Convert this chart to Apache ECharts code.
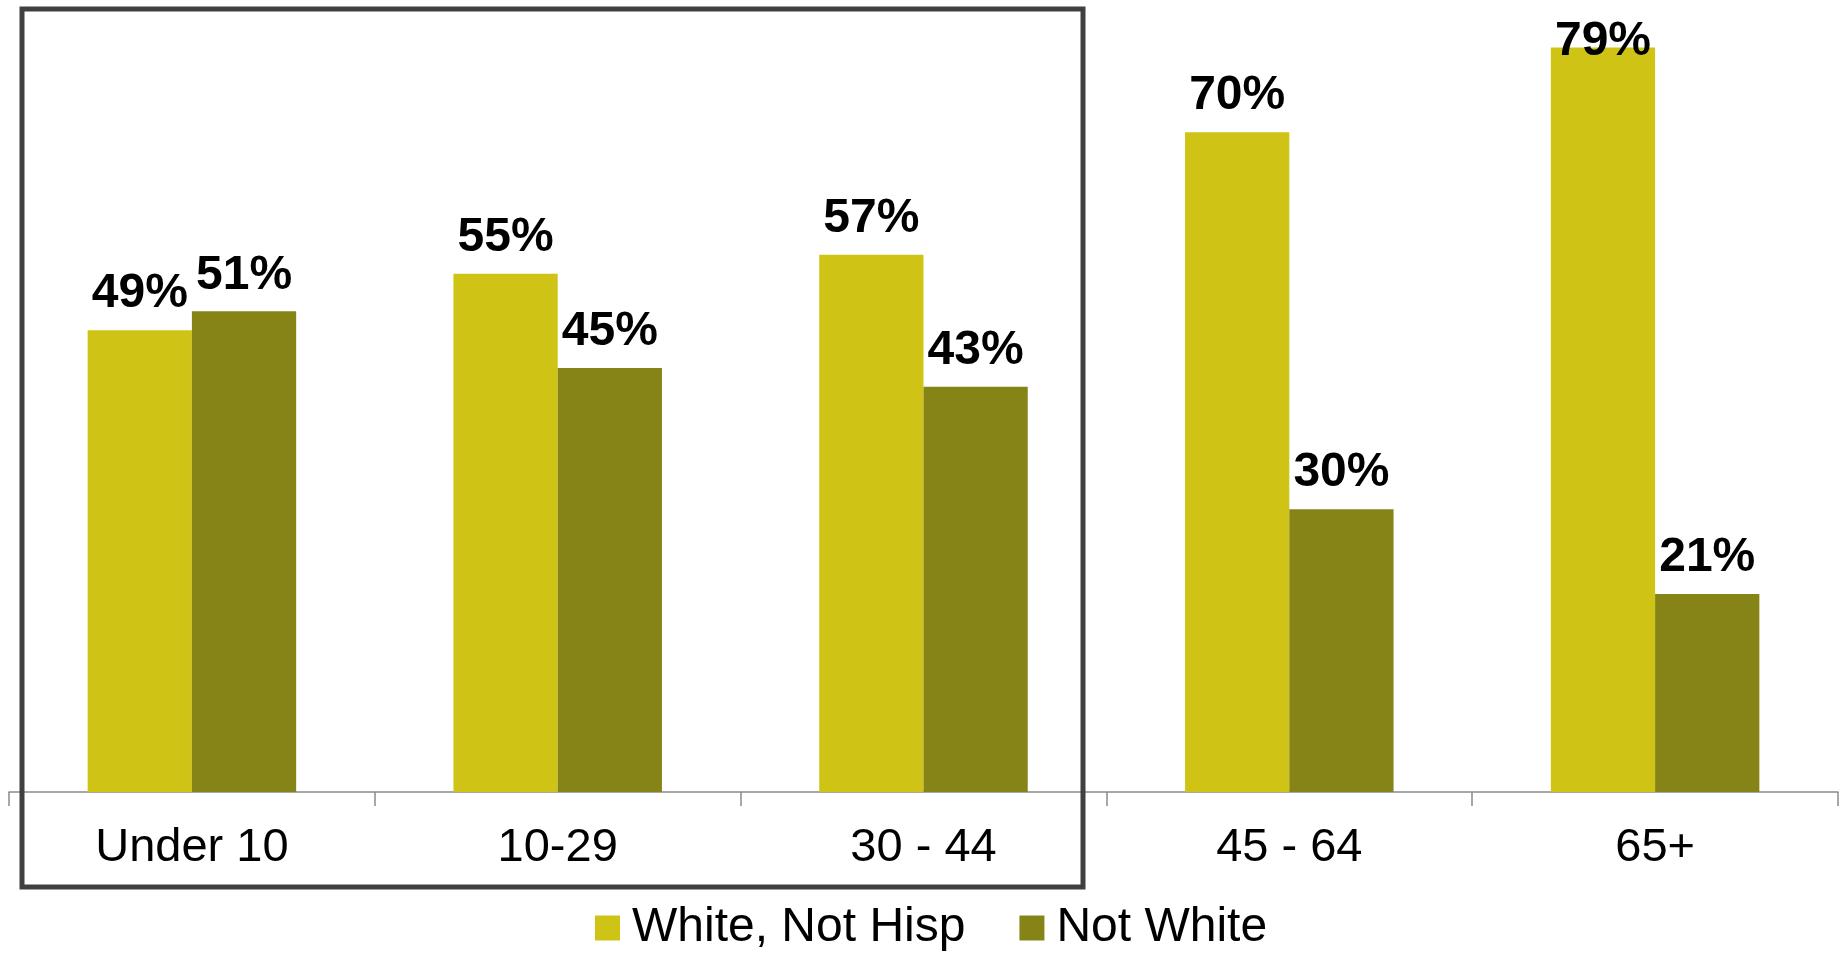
<!DOCTYPE html>
<html><head><meta charset="utf-8">
<script src="https://cdn.jsdelivr.net/npm/echarts@6/dist/echarts.min.js"></script>
<style>html,body{margin:0;padding:0;background:#fff}#c{width:1845px;height:954px}</style>
</head><body><div id="c"></div>
<script>
const categories = ['Under 10', '10-29', '30 - 44', '45 - 64', '65+'];
const whiteNotHisp = [49, 55, 57, 70, 79];
const notWhite = [51, 45, 43, 30, 21];
const seriesNames = ['White, Not Hisp', 'Not White'];

const FONT = '"Liberation Sans", Arial, sans-serif';
const chart = echarts.init(document.getElementById('c'));
const labelCfg = {show: true, position: 'top', distance: 12, formatter: '{c}%',
  fontFamily: FONT, fontWeight: 'bold', fontSize: 48, color: '#000'};
function mk(vals) {
  // a label that would run above the drawing top is pulled down onto the bar
  return vals.map(v => v >= 75 ? {value: v, label: {distance: -18}} : v);
}
chart.setOption({
  animation: false,
  grid: {left: 9, right: 7, top: 38, bottom: 162},
  legend: {left: 595, top: 904, itemWidth: 25, itemHeight: 25, itemGap: 54, padding: 0,
    icon: 'rect', textStyle: {fontFamily: FONT, fontSize: 48, color: '#000', padding: [0, 0, 0, 7]},
    data: seriesNames},
  xAxis: {type: 'category', data: categories,
    axisLine: {lineStyle: {color: '#8a8a8a', width: 1.5}},
    axisTick: {show: true, length: 14, lineStyle: {color: '#8a8a8a', width: 1.5}},
    axisLabel: {margin: 33, fontFamily: FONT, fontSize: 47, color: '#000'}},
  yAxis: {type: 'value', min: 0, max: 80, show: false, splitLine: {show: false}},
  series: [
    {name: seriesNames[0], type: 'bar', data: mk(whiteNotHisp), barGap: '0%', barCategoryGap: '43%',
     itemStyle: {color: '#CFC316'}, label: labelCfg},
    {name: seriesNames[1], type: 'bar', data: mk(notWhite), barGap: '0%', barCategoryGap: '43%',
     itemStyle: {color: '#878417'}, label: labelCfg}
  ],
  graphic: [{type: 'rect', shape: {x: 22, y: 9, width: 1061, height: 878},
    style: {fill: 'none', stroke: '#404040', lineWidth: 5}, z: 100}]
});
</script></body></html>
